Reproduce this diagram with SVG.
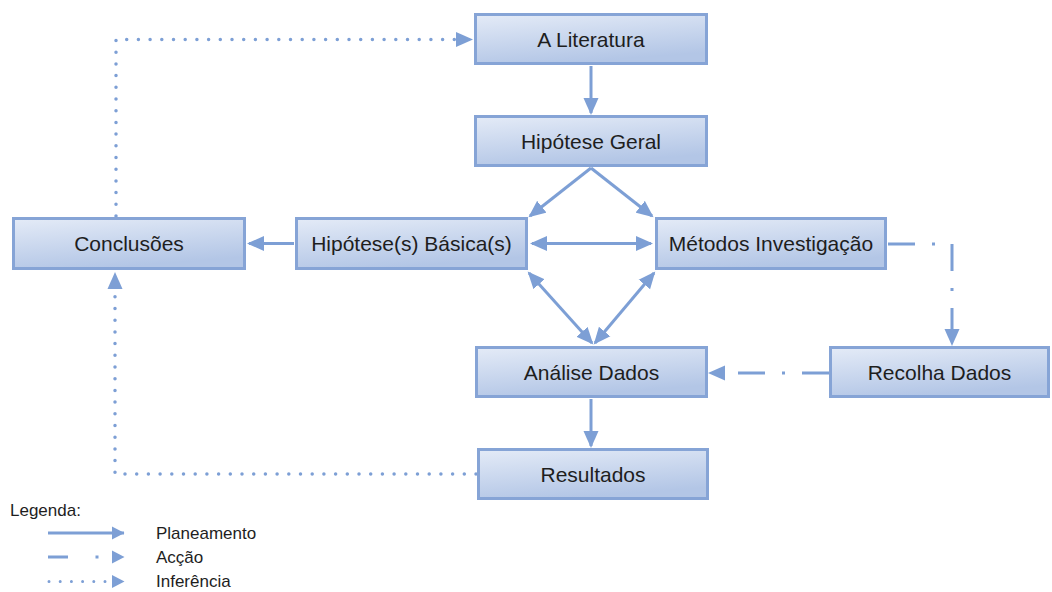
<svg xmlns="http://www.w3.org/2000/svg" width="1052" height="592" viewBox="0 0 1052 592">
<defs>
<linearGradient id="bf" x1="0" y1="0" x2="0.35" y2="1">
<stop offset="0" stop-color="#e4ebf7"/>
<stop offset="1" stop-color="#b3c6e6"/>
</linearGradient>
<marker id="ah" markerUnits="userSpaceOnUse" markerWidth="18" markerHeight="16" refX="15" refY="8" orient="auto-start-reverse" viewBox="0 0 18 16">
<path d="M0,0.5 L17,8 L0,15.5 z" fill="#7d9fd5"/>
</marker>
<marker id="ahs" markerUnits="userSpaceOnUse" markerWidth="14" markerHeight="14" refX="12" refY="7" orient="auto" viewBox="0 0 14 14">
<path d="M0,0.5 L12.5,7 L0,13.5 z" fill="#7d9fd5"/>
</marker>
</defs>
<style>
.box{fill:url(#bf);stroke:#86a4d6;stroke-width:3}
.lbl{font-family:"Liberation Sans",Arial,sans-serif;font-size:21px;fill:#1e1e1e;text-anchor:middle;dominant-baseline:central}
.leg{font-family:"Liberation Sans",Arial,sans-serif;font-size:17px;fill:#1e1e1e}
.plan{fill:none;stroke:#7d9fd5;stroke-width:3;marker-end:url(#ah)}
.both{fill:none;stroke:#7d9fd5;stroke-width:3;marker-start:url(#ah);marker-end:url(#ah)}
.act{fill:none;stroke:#7d9fd5;stroke-width:3;stroke-dasharray:27 17 3 17;marker-end:url(#ah)}
.inf{fill:none;stroke:#7d9fd5;stroke-width:3.5;stroke-linecap:round;stroke-dasharray:0 11.7;marker-end:url(#ah)}
</style>
<rect width="1052" height="592" fill="#ffffff"/>

<g id="connectors">
<path class="plan" d="M591,66 L591,113"/>
<path class="plan" d="M591,168 L530,216"/>
<path class="plan" d="M591,168 L652,216"/>
<path class="plan" d="M294,243.5 L249,243.5"/>
<path class="both" d="M532,243.5 L651,243.5"/>
<path class="both" d="M529,273 L592,343"/>
<path class="both" d="M654,273 L595,343"/>
<path class="act" d="M888,244 L952,244 L952,344"/>
<path class="act" d="M829,373 L710,373"/>
<path class="plan" d="M591,399 L591,446"/>
<path class="inf" d="M476,474 L115,474 L115,274"/>
<path class="inf" d="M116,216 L116,39.5 L471,39.5"/>
</g>

<g id="n-literatura"><rect class="box" x="475.5" y="14.5" width="231" height="49"/><text class="lbl" x="591" y="39.5">A Literatura</text></g>
<g id="n-geral"><rect class="box" x="475.5" y="116.5" width="231" height="49"/><text class="lbl" x="591" y="141">Hipótese Geral</text></g>
<g id="n-conclusoes"><rect class="box" x="13.5" y="218.5" width="231" height="50"/><text class="lbl" x="129" y="243.5">Conclusões</text></g>
<g id="n-basica"><rect class="box" x="296.5" y="218.5" width="230" height="50"/><text class="lbl" x="411.5" y="243.5">Hipótese(s) Básica(s)</text></g>
<g id="n-metodos"><rect class="box" x="656.5" y="218.5" width="229" height="50"/><text class="lbl" x="771" y="243.5">Métodos Investigação</text></g>
<g id="n-analise"><rect class="box" x="476.5" y="347.5" width="230" height="49"/><text class="lbl" x="591.5" y="372">Análise Dados</text></g>
<g id="n-recolha"><rect class="box" x="830.5" y="347.5" width="218" height="49"/><text class="lbl" x="939.5" y="372">Recolha Dados</text></g>
<g id="n-resultados"><rect class="box" x="478.5" y="449.5" width="229" height="49"/><text class="lbl" x="593" y="474">Resultados</text></g>

<g id="legend">
<text class="leg" x="10" y="516">Legenda:</text>
<path d="M48,533 L124,533" fill="none" stroke="#7d9fd5" stroke-width="3" marker-end="url(#ahs)"/>
<path d="M48,557 L68,557 M95.5,557 L98.5,557" fill="none" stroke="#7d9fd5" stroke-width="3"/>
<path d="M112,557 L124,557" fill="none" stroke="#7d9fd5" stroke-width="0.1" marker-end="url(#ahs)"/>
<path d="M49,581.5 L106,581.5" fill="none" stroke="#7d9fd5" stroke-width="3" stroke-linecap="round" stroke-dasharray="0 11.2"/>
<path d="M112,581.5 L124,581.5" fill="none" stroke="#7d9fd5" stroke-width="0.1" marker-end="url(#ahs)"/>
<text class="leg" x="156" y="539">Planeamento</text>
<text class="leg" x="156" y="563">Acção</text>
<text class="leg" x="156" y="587">Inferência</text>
</g>
</svg>
